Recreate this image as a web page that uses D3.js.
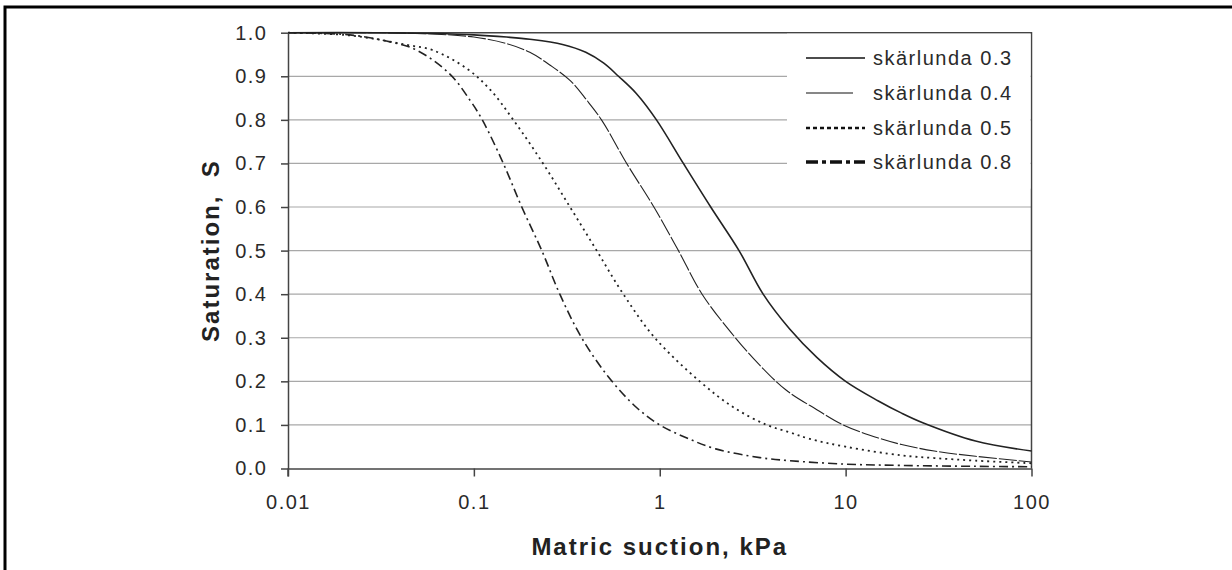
<!DOCTYPE html>
<html>
<head>
<meta charset="utf-8">
<script src="https://cdn.jsdelivr.net/npm/d3@7"></script>
<style>
  body { margin: 0; background: #fff; }
  svg { display: block; font-family: "Liberation Sans", Arial, sans-serif; }
</style>
</head>
<body>
<svg id="chart" width="1232" height="570"></svg>
<script>
// series (suction in kPa, saturation S)
var seriesNames = ["skärlunda 0.3", "skärlunda 0.4", "skärlunda 0.5", "skärlunda 0.8"];

var suction03 = [0.01, 0.03, 0.06, 0.1, 0.15, 0.2, 0.3, 0.4, 0.5, 0.6, 0.75, 0.96, 1.34, 1.88, 2.67, 3.6, 5, 7, 10, 15, 20, 26, 50, 100];
var sat03     = [1.0, 1.0, 0.998, 0.995, 0.99, 0.985, 0.973, 0.955, 0.93, 0.90, 0.86, 0.80, 0.70, 0.60, 0.50, 0.40, 0.32, 0.255, 0.20, 0.155, 0.127, 0.105, 0.063, 0.04];

var suction04 = [0.01, 0.03, 0.06, 0.1, 0.15, 0.2, 0.256, 0.33, 0.405, 0.486, 0.664, 0.93, 1.26, 1.69, 2.44, 3.4, 4.78, 7, 9.7, 15, 20, 30, 50, 100];
var sat04     = [1.0, 1.0, 0.997, 0.99, 0.975, 0.955, 0.926, 0.89, 0.845, 0.80, 0.70, 0.60, 0.50, 0.40, 0.31, 0.24, 0.18, 0.135, 0.10, 0.07, 0.055, 0.04, 0.028, 0.015];

var suction05 = [0.01, 0.02, 0.03, 0.0435, 0.06, 0.0914, 0.122, 0.163, 0.2355, 0.329, 0.458, 0.637, 0.94, 1.64, 2.5, 3.76, 5, 6.4, 10, 20, 30, 50, 100];
var sat05     = [1.0, 0.995, 0.985, 0.972, 0.96, 0.918, 0.87, 0.80, 0.70, 0.60, 0.50, 0.40, 0.30, 0.20, 0.14, 0.10, 0.083, 0.068, 0.05, 0.03, 0.024, 0.018, 0.012];

var suction08 = [0.01, 0.0215, 0.0354, 0.0492, 0.0743, 0.0953, 0.111, 0.144, 0.181, 0.232, 0.29, 0.38, 0.53, 0.75, 1.0, 1.4, 2.0, 3.46, 5, 10, 20, 50, 100];
var sat08     = [1.0, 0.995, 0.979, 0.96, 0.905, 0.845, 0.80, 0.70, 0.60, 0.50, 0.40, 0.30, 0.21, 0.14, 0.10, 0.07, 0.045, 0.025, 0.018, 0.01, 0.007, 0.005, 0.004];

var xTicks = [0.01, 0.1, 1, 10, 100];
var xTickLabels = ["0.01", "0.1", "1", "10", "100"];
var yTicks = [0, 0.1, 0.2, 0.3, 0.4, 0.5, 0.6, 0.7, 0.8, 0.9, 1.0];

var svg = d3.select("#chart");

// outer frame (right/bottom run off the picture)
svg.append("rect")
  .attr("x", 5).attr("y", 7)
  .attr("width", 1300).attr("height", 600)
  .attr("fill", "none").attr("stroke", "#000").attr("stroke-width", 3);

var plotLeft = 288, plotRight = 1031.5, plotTop = 32.7, plotBottom = 468.5;

var x = d3.scaleLog().domain([0.01, 100]).range([plotLeft, plotRight]);
var y = d3.scaleLinear().domain([0, 1]).range([plotBottom, plotTop]);

// gridlines
svg.append("g").selectAll("line")
  .data(yTicks.filter(function(d){ return d > 0 && d < 1; }))
  .enter().append("line")
  .attr("x1", plotLeft).attr("x2", plotRight)
  .attr("y1", function(d){ return y(d); }).attr("y2", function(d){ return y(d); })
  .attr("stroke", "#a8a8a8").attr("stroke-width", 1.2);

// top + right frame of plot area
svg.append("path")
  .attr("d", "M" + plotLeft + "," + plotTop + "H" + plotRight + "V" + plotBottom)
  .attr("fill", "none").attr("stroke", "#444").attr("stroke-width", 1.5);

// legend background hides the gridlines behind it
svg.append("rect")
  .attr("x", 787).attr("y", plotTop + 1)
  .attr("width", plotRight - 787 - 1).attr("height", 155)
  .attr("fill", "#fff");

var styles = [
  { width: 1.6, dash: null },
  { width: 1.1, dash: "18,2" },
  { width: 1.8, dash: "2,4" },
  { width: 1.6, dash: "9,4,2,4" }
];
var legendStyles = [
  { width: 1.5, dash: null, x2: 865 },
  { width: 1.1, dash: null, x2: 853 },
  { width: 2.5, dash: "4,3" },
  { width: 3.5, dash: "12,4,4,4" }
];

var allSeries = [
  d3.zip(suction03, sat03),
  d3.zip(suction04, sat04),
  d3.zip(suction05, sat05),
  d3.zip(suction08, sat08)
];

var line = d3.line()
  .x(function(d){ return x(d[0]); })
  .y(function(d){ return y(d[1]); })
  .curve(d3.curveCatmullRom.alpha(0.5));

svg.append("g").selectAll("path")
  .data(allSeries)
  .enter().append("path")
  .attr("d", line)
  .attr("fill", "none")
  .attr("stroke", "#222")
  .attr("stroke-width", function(d, i){ return styles[i].width; })
  .attr("stroke-dasharray", function(d, i){ return styles[i].dash; });

// axes
var yAxis = svg.append("g")
  .attr("transform", "translate(" + plotLeft + ",0)")
  .call(d3.axisLeft(y).tickValues(yTicks).tickFormat(d3.format(".1f")).tickSize(7).tickSizeOuter(0).tickPadding(13.5));

var xAxis = svg.append("g")
  .attr("transform", "translate(0," + plotBottom + ")")
  .call(d3.axisBottom(x).tickValues(xTicks)
    .tickFormat(function(d, i){ return xTickLabels[i]; })
    .tickSize(8).tickSizeOuter(0).tickPadding(18.5));

[yAxis, xAxis].forEach(function(g){
  g.select(".domain").attr("stroke", "#444").attr("stroke-width", 1.5);
  g.selectAll(".tick line").attr("stroke", "#444").attr("stroke-width", 1.5);
  g.selectAll(".tick text")
    .attr("fill", "#2a2a2a")
    .style("font-size", "20px")
    .style("letter-spacing", "1.5px")
    .style("font-family", "'Liberation Sans', Arial, sans-serif");
});
// y axis line also runs down past the x axis
svg.append("line")
  .attr("x1", plotLeft).attr("x2", plotLeft).attr("y1", plotBottom).attr("y2", plotBottom + 8)
  .attr("stroke", "#444").attr("stroke-width", 1.5);

// legend
var legendY = [58, 93, 128, 162];
var leg = svg.append("g").selectAll("g")
  .data(seriesNames)
  .enter().append("g");

leg.append("line")
  .attr("x1", 806)
  .attr("x2", function(d, i){ return legendStyles[i].x2 || 865; })
  .attr("y1", function(d, i){ return legendY[i]; })
  .attr("y2", function(d, i){ return legendY[i]; })
  .attr("stroke", "#111")
  .attr("stroke-width", function(d, i){ return legendStyles[i].width; })
  .attr("stroke-dasharray", function(d, i){ return legendStyles[i].dash; });

leg.append("text")
  .attr("x", 873)
  .attr("y", function(d, i){ return legendY[i] + 7; })
  .attr("fill", "#2a2a2a")
  .style("font-size", "20px")
  .style("letter-spacing", "1.5px")
  .text(function(d){ return d; });

// axis titles
svg.append("text")
  .attr("x", (plotLeft + plotRight) / 2)
  .attr("y", 555)
  .attr("text-anchor", "middle")
  .attr("fill", "#222")
  .style("font-size", "24px")
  .style("font-weight", "bold")
  .style("letter-spacing", "2px")
  .text("Matric suction, kPa");

svg.append("text")
  .attr("transform", "translate(219," + ((plotTop + plotBottom) / 2) + ") rotate(-90)")
  .attr("text-anchor", "middle")
  .attr("fill", "#222")
  .style("font-size", "24px")
  .style("font-weight", "bold")
  .style("letter-spacing", "2px")
  .style("white-space", "pre")
  .text("Saturation,  S");
</script>
</body>
</html>
